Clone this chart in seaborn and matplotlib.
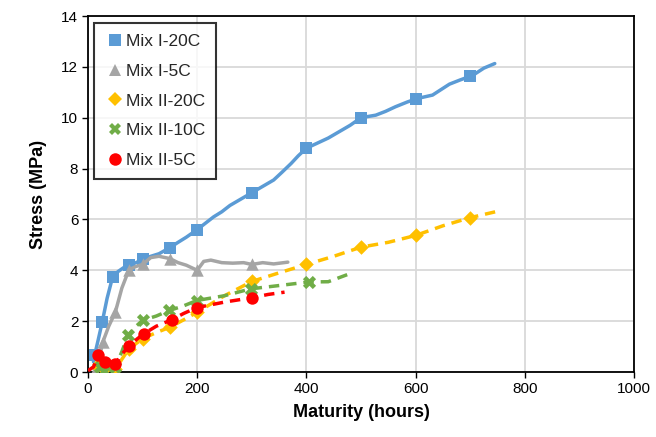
import matplotlib
matplotlib.use("Agg")
import matplotlib.pyplot as plt
from matplotlib.lines import Line2D
import seaborn as sns
import pandas as pd

# ---- Mix I-20C ----
mix1_20_line_h = [10, 12, 18, 26, 35, 45, 55, 65, 75, 88, 100, 115, 130, 150, 165, 180,
                  200, 215, 230, 245, 260, 280, 300, 320, 340, 355, 372, 385, 400, 420,
                  440, 460, 480, 500, 527, 545, 563, 585, 604, 631, 662, 681, 705, 725, 745]
mix1_20_line_s = [0.4, 0.65, 1.2, 1.96, 2.9, 3.73, 3.95, 4.1, 4.19, 4.3, 4.43, 4.55, 4.65,
                  4.89, 5.1, 5.3, 5.6, 5.85, 6.1, 6.3, 6.55, 6.8, 7.05, 7.3, 7.55, 7.85,
                  8.2, 8.5, 8.8, 9.0, 9.2, 9.45, 9.7, 10.0, 10.1, 10.25, 10.43, 10.62,
                  10.76, 10.89, 11.32, 11.48, 11.67, 11.95, 12.13]
mix1_20_pts_h = [12, 26, 45, 75, 100, 150, 200, 300, 400, 500, 600, 700]
mix1_20_pts_s = [0.65, 1.96, 3.73, 4.19, 4.43, 4.89, 5.6, 7.05, 8.8, 10.0, 10.75, 11.65]

# ---- Mix I-5C ----
mix1_5_line_h = [12, 20, 27, 38, 50, 62, 75, 88, 100, 115, 130, 150, 165, 180, 200, 212,
                 225, 245, 265, 285, 300, 320, 340, 366]
mix1_5_line_s = [0.05, 0.5, 1.17, 1.8, 2.35, 3.3, 4.02, 4.15, 4.23, 4.5, 4.55, 4.46, 4.3,
                 4.2, 4.0, 4.35, 4.4, 4.3, 4.28, 4.3, 4.23, 4.3, 4.25, 4.32]
mix1_5_pts_h = [12, 27, 50, 75, 100, 150, 200, 300]
mix1_5_pts_s = [0.05, 1.17, 2.35, 4.02, 4.23, 4.46, 4.0, 4.23]

# ---- Mix II-20C ----
mix2_20_line_h = [10, 20, 30, 50, 62, 75, 100, 125, 150, 175, 200, 250, 300, 350, 400,
                  450, 500, 550, 600, 650, 700, 758]
mix2_20_line_s = [0.1, 0.3, 0.1, 0.1, 0.5, 0.91, 1.31, 1.55, 1.76, 2.05, 2.35, 3.0, 3.56,
                  3.9, 4.23, 4.55, 4.91, 5.1, 5.37, 5.75, 6.07, 6.36]
mix2_20_pts_h = [20, 30, 50, 75, 100, 150, 200, 300, 400, 500, 600, 700]
mix2_20_pts_s = [0.3, 0.1, 0.1, 0.91, 1.31, 1.76, 2.35, 3.56, 4.23, 4.91, 5.37, 6.07]

# ---- Mix II-10C ----
mix2_10_line_h = [15, 22, 30, 40, 50, 62, 73, 88, 100, 125, 149, 175, 199, 250, 298, 350,
                  404, 440, 480]
mix2_10_line_s = [0.3, 0.2, 0.05, 0.1, 0.2, 0.8, 1.44, 1.8, 2.03, 2.2, 2.42, 2.6, 2.81,
                  3.0, 3.27, 3.4, 3.54, 3.55, 3.87]
mix2_10_pts_h = [22, 30, 50, 73, 100, 149, 199, 298, 404]
mix2_10_pts_s = [0.2, 0.05, 0.2, 1.44, 2.03, 2.42, 2.81, 3.27, 3.54]

# ---- Mix II-5C ----
mix2_5_line_h = [0, 10, 19, 31, 50, 62, 76, 90, 102, 125, 153, 175, 199, 250, 300, 330, 360]
mix2_5_line_s = [0.05, 0.2, 0.65, 0.39, 0.32, 0.7, 1.03, 1.3, 1.5, 1.8, 2.05, 2.3, 2.53,
                 2.75, 2.92, 3.05, 3.14]
mix2_5_pts_h = [19, 31, 50, 76, 102, 153, 199, 300]
mix2_5_pts_s = [0.65, 0.39, 0.32, 1.03, 1.5, 2.05, 2.53, 2.92]

labels = ["Mix I-20C", "Mix I-5C", "Mix II-20C", "Mix II-10C", "Mix II-5C"]
colors = ["#5B9BD5", "#A5A5A5", "#FFC000", "#70AD47", "#FF0000"]
markers = ["s", "^", "D", "X", "o"]
msizes = [80, 80, 55, 90, 80]
dashed = [False, False, True, True, True]

lines = [(mix1_20_line_h, mix1_20_line_s), (mix1_5_line_h, mix1_5_line_s),
         (mix2_20_line_h, mix2_20_line_s), (mix2_10_line_h, mix2_10_line_s),
         (mix2_5_line_h, mix2_5_line_s)]
points = [(mix1_20_pts_h, mix1_20_pts_s), (mix1_5_pts_h, mix1_5_pts_s),
          (mix2_20_pts_h, mix2_20_pts_s), (mix2_10_pts_h, mix2_10_pts_s),
          (mix2_5_pts_h, mix2_5_pts_s)]

sns.set_theme(style="whitegrid")
plt.rcParams["font.family"] = ["Liberation Sans", "DejaVu Sans"]

fig = plt.figure(figsize=(6.56, 4.37), dpi=100)
ax = fig.add_axes([88 / 656, 1 - 372 / 437, (634 - 88) / 656, (372 - 16) / 437])

for i in range(len(labels)):
    lh, ls = lines[i]
    ph, ps = points[i]
    df_line = pd.DataFrame({"Maturity": lh, "Stress": ls})
    df_pts = pd.DataFrame({"Maturity": ph, "Stress": ps})
    sns.lineplot(data=df_line, x="Maturity", y="Stress", ax=ax, color=colors[i],
                 linewidth=2.5, sort=False, estimator=None, zorder=2 + i)
    if dashed[i]:
        ax.lines[-1].set_linestyle((0, (3.0, 2.0)))
    sns.scatterplot(data=df_pts, x="Maturity", y="Stress", ax=ax, color=colors[i],
                    marker=markers[i], s=msizes[i], linewidth=0, zorder=3 + i)

ax.set_xlim(0, 1000)
ax.set_ylim(0, 14)
ax.set_xticks(range(0, 1001, 200))
ax.set_yticks(range(0, 15, 2))
ax.grid(True, color="#D9D9D9", linewidth=1.3)
for sp in ax.spines.values():
    sp.set_color("black")
    sp.set_linewidth(1.3)
ax.tick_params(axis="both", which="both", direction="out", length=4, width=1,
               color="black", labelsize=11, labelcolor="black", pad=3,
               bottom=True, left=True)
ax.set_xlabel("Maturity (hours)", fontsize=13, fontweight="bold", color="black", labelpad=6)
ax.set_ylabel("Stress (MPa)", fontsize=13, fontweight="bold", color="black", labelpad=10)

handles = [Line2D([0], [0], linestyle="none", marker=m, color=c,
                  markersize=(9 if m != "D" else 7), markeredgewidth=0)
           for m, c in zip(markers, colors)]
leg = ax.legend(handles, labels, loc="upper left", bbox_to_anchor=(0.011, 0.98),
                fontsize=12.5, frameon=True, fancybox=False, edgecolor="black",
                handlelength=1.2, handletextpad=0.05, labelspacing=0.85,
                borderpad=0.6, borderaxespad=0.0)
leg.get_frame().set_linewidth(1.5)

fig.savefig("out.png", dpi=100, facecolor="white")
